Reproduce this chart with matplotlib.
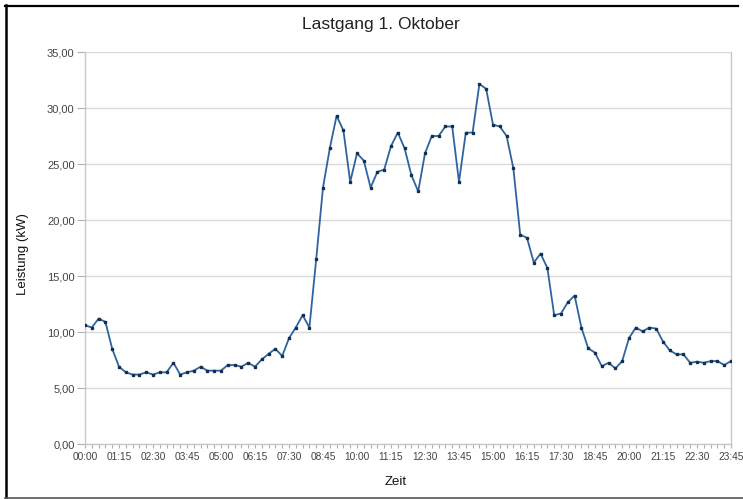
import matplotlib
matplotlib.use("Agg")
import matplotlib.pyplot as plt
from matplotlib.lines import Line2D

# ---- data ----
time_labels = [f"{(15*i)//60:02d}:{(15*i)%60:02d}" for i in range(96)]
leistung = [10.6, 10.4, 11.2, 10.9, 8.5, 6.9, 6.4, 6.2, 6.2, 6.4,
            6.2, 6.4, 6.4, 7.25, 6.2, 6.4, 6.55, 6.9, 6.55, 6.55,
            6.55, 7.05, 7.05, 6.9, 7.25, 6.9, 7.55, 8.05, 8.5, 7.85,
            9.45, 10.4, 11.5, 10.4, 16.5, 22.9, 26.4, 29.3, 28.0, 23.4,
            25.95, 25.3, 22.9, 24.3, 24.5, 26.6, 27.8, 26.4, 24.0, 22.55,
            25.95, 27.5, 27.5, 28.35, 28.35, 23.4, 27.8, 27.8, 32.15, 31.7,
            28.5, 28.35, 27.5, 24.6, 18.7, 18.4, 16.2, 17.0, 15.7, 11.5,
            11.65, 12.65, 13.25, 10.4, 8.55, 8.15, 6.95, 7.25, 6.75, 7.4,
            9.45, 10.4, 10.05, 10.4, 10.3, 9.15, 8.35, 8.0, 8.0, 7.25,
            7.35, 7.25, 7.4, 7.4, 7.05, 7.4]
x_tick_labels = time_labels[::5]
y_ticks = [0, 5, 10, 15, 20, 25, 30, 35]
y_tick_labels = ["0,00", "5,00", "10,00", "15,00", "20,00", "25,00", "30,00", "35,00"]
title = "Lastgang 1. Oktober"
xlabel = "Zeit"
ylabel = "Leistung (kW)"

plt.rcParams['font.family'] = ['Liberation Sans', 'DejaVu Sans']

W, H = 743, 499
fig = plt.figure(figsize=(W/100, H/100), dpi=100)
ax = fig.add_axes([85/W, 1-444/H, (731-85)/W, (444-52)/H])

x = list(range(len(leistung)))
ax.plot(x, leistung, color='#2d64a0', lw=1.3, marker='s', ms=2.1,
        mfc='#15304d', mec='#15304d', zorder=3)

ax.set_xlim(0, 95)
ax.set_ylim(0, 35)
ax.set_yticks(y_ticks)
ax.set_yticklabels(y_tick_labels)
ax.set_xticks(x[::5])
ax.set_xticklabels(x_tick_labels)
ax.set_xticks(x, minor=True)

ax.grid(axis='y', color='#d9d9d9', lw=1.0, zorder=0)
for s in ['left', 'bottom', 'right']:
    ax.spines[s].set_color('#c8c8c8')
    ax.spines[s].set_linewidth(1.0)
ax.spines['top'].set_visible(False)

ax.tick_params(axis='x', which='both', length=3, width=0.8, color='#b0b0b0',
               labelsize=7.3, labelcolor='#444444', pad=3)
ax.tick_params(axis='y', length=6, width=0.8, color='#b0b0b0',
               labelsize=8, labelcolor='#444444', pad=1.5)

fig.text(381/W, 1-24/H, title, ha='center', va='center', fontsize=12.5, color='#222222')
fig.text(396/W, 1-482/H, xlabel, ha='center', va='center', fontsize=9.5, color='#111111')
fig.text(23/W, 1-254/H, ylabel, ha='center', va='center', rotation=90,
         fontsize=9.5, color='#111111')

# figure border
fig.add_artist(Line2D([5/W, 738/W], [1-5.5/H, 1-5.5/H], color='black', lw=1.6))
fig.add_artist(Line2D([6/W, 6/W], [1-5/H, 1-497.5/H], color='black', lw=1.8))
fig.add_artist(Line2D([5/W, 743/W], [1-497.5/H, 1-497.5/H], color='#555555', lw=1.2))

fig.savefig('out.png', dpi=100)
